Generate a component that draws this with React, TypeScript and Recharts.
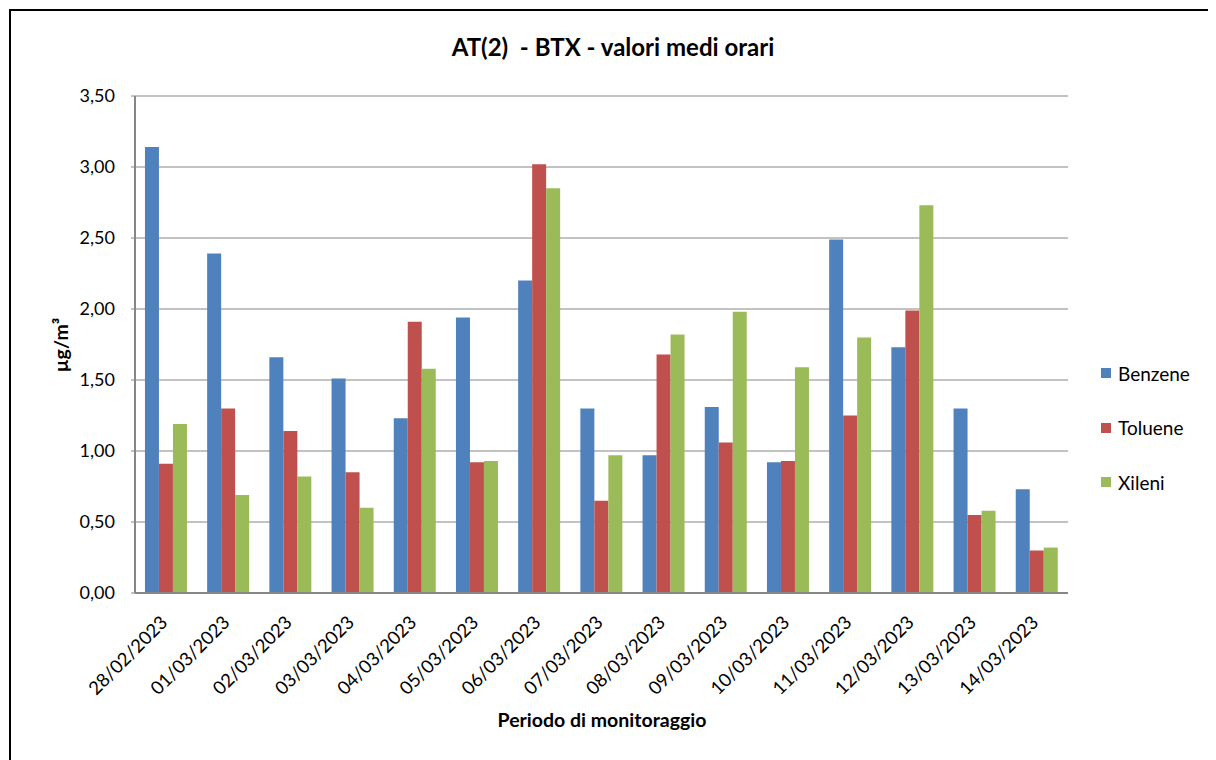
import { Bar, BarChart, CartesianGrid, XAxis, YAxis } from "recharts";

const DATES = [
  "28/02/2023", "01/03/2023", "02/03/2023", "03/03/2023", "04/03/2023",
  "05/03/2023", "06/03/2023", "07/03/2023", "08/03/2023", "09/03/2023",
  "10/03/2023", "11/03/2023", "12/03/2023", "13/03/2023", "14/03/2023",
];
const BENZENE = [3.14, 2.39, 1.66, 1.51, 1.23, 1.94, 2.2, 1.3, 0.97, 1.31, 0.92, 2.49, 1.73, 1.3, 0.73];
const TOLUENE = [0.91, 1.3, 1.14, 0.85, 1.91, 0.92, 3.02, 0.65, 1.68, 1.06, 0.93, 1.25, 1.99, 0.55, 0.3];
const XILENI = [1.19, 0.69, 0.82, 0.6, 1.58, 0.93, 2.85, 0.97, 1.82, 1.98, 1.59, 1.8, 2.73, 0.58, 0.32];
const Y_TICKS = [0, 0.5, 1, 1.5, 2, 2.5, 3, 3.5];

const SERIES = [
  { key: "Benzene", color: "#4F81BD" },
  { key: "Toluene", color: "#C0504D" },
  { key: "Xileni", color: "#9BBB59" },
];

const data = DATES.map((d, i) => ({ date: d, Benzene: BENZENE[i], Toluene: TOLUENE[i], Xileni: XILENI[i] }));

const FONT = "Lato, 'Open Sans', sans-serif";

function DateTick({ x, y, payload }: any) {
  return (
    <g transform={`translate(${x - 2},${y + 18}) rotate(-45)`}>
      <text x={0} y={0} dy="0.35em" textAnchor="end" fontSize={18.5} fill="#000" fontFamily={FONT}>
        {payload.value}
      </text>
    </g>
  );
}

export default function App() {
  return (
    <div style={{ position: "relative", width: 1208, height: 752, fontFamily: FONT }}>
      <div style={{ position: "absolute", left: 1, top: 1, width: 1220, height: 800, border: "2px solid #000", boxSizing: "border-box" }} />
      <div style={{ position: "absolute", left: 0, width: 1210, top: 24, textAlign: "center", fontSize: 24, fontWeight: 700 }}>
        AT(2)&nbsp; - BTX - valori medi orari
      </div>
      <div style={{ position: "absolute", left: 52, top: 337, transform: "translate(-50%,-50%) rotate(-90deg)", fontSize: 19.5, fontWeight: 700, whiteSpace: "nowrap" }}>
        µg/m³
      </div>
      <div style={{ position: "absolute", left: 0, width: 1188, top: 700, textAlign: "center", fontSize: 19.5, fontWeight: 700 }}>
        Periodo di monitoraggio
      </div>
      <div style={{ position: "absolute", left: 1093, top: 354 }}>
        {SERIES.map((s) => (
          <div key={s.key} style={{ display: "flex", alignItems: "center", height: 22, marginBottom: 32.5, fontSize: 19 }}>
            <span style={{ width: 10, height: 10, background: s.color, marginRight: 7, display: "inline-block" }} />
            {s.key}
          </div>
        ))}
      </div>
      <BarChart
        width={1208}
        height={752}
        data={data}
        margin={{ top: 88, right: 148, left: 60, bottom: 57 }}
        barCategoryGap="16%"
        barGap={0}
        style={{ position: "absolute", left: 0, top: 0 }}
      >
        <CartesianGrid vertical={false} stroke="#868686" strokeWidth={1} />
        <XAxis
          dataKey="date"
          interval={0}
          height={110}
          tick={<DateTick />}
          tickLine={false}
          axisLine={{ stroke: "#868686", strokeWidth: 2 }}
        />
        <YAxis
          width={67}
          domain={[0, 3.5]}
          ticks={Y_TICKS}
          tickFormatter={(v: number) => v.toFixed(2).replace(".", ",")}
          tick={{ fontSize: 18, fill: "#000", fontFamily: FONT }}
          tickLine={{ stroke: "#868686" }}
          tickSize={4}
          tickMargin={16}
          axisLine={{ stroke: "#868686", strokeWidth: 2 }}
        />
        {SERIES.map((s) => (
          <Bar key={s.key} dataKey={s.key} fill={s.color} isAnimationActive={false} />
        ))}
      </BarChart>
    </div>
  );
}
